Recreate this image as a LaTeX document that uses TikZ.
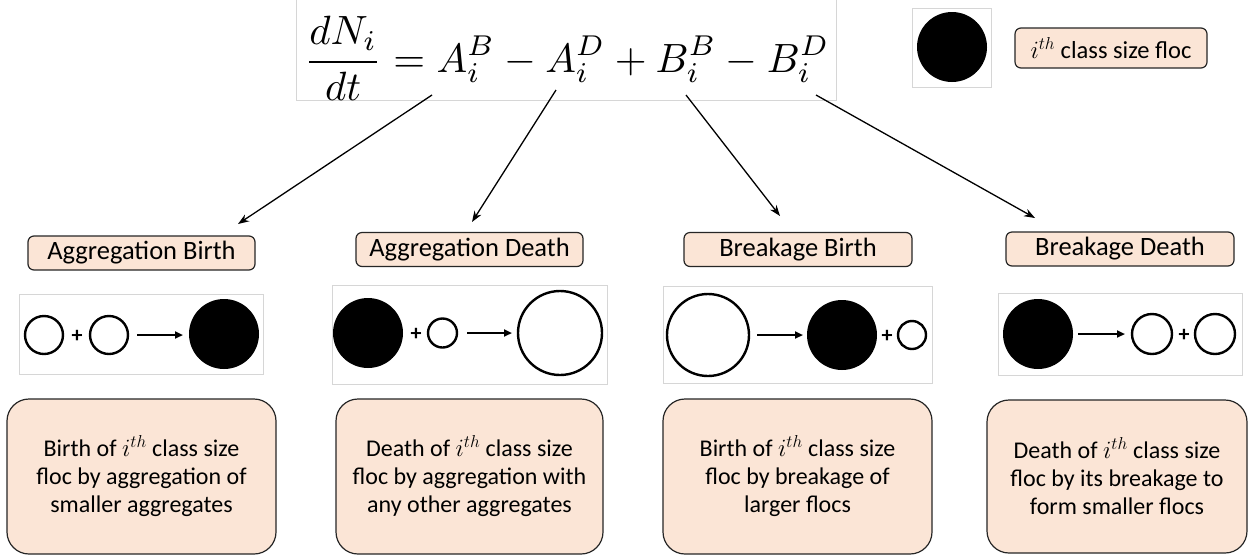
\documentclass[tikz,border=0pt]{standalone}
\usepackage{fontspec}
\setmainfont{Carlito}
\usetikzlibrary{arrows.meta}
\definecolor{peach}{HTML}{FBE5D6}
\definecolor{edge}{HTML}{262626}
\definecolor{frameg}{HTML}{D6D6D6}
\tikzset{
  titlebox/.style={draw=edge, fill=peach, line width=1.2pt, rounded corners=6pt,
    minimum height=34pt, inner sep=0pt, font=\fontsize{26.5}{30}\selectfont},
  descbox/.style={draw=edge, fill=peach, line width=1.2pt, rounded corners=22pt,
    minimum height=155pt, inner sep=0pt, align=center, font=\fontsize{24}{28}\selectfont},
  imgframe/.style={draw=frameg, line width=0.8pt},
  flocfull/.style={fill=black},
  flocopen/.style={draw=black, line width=2.4pt, fill=white},
  react/.style={line width=2pt, -{Triangle[length=8pt,width=7pt]}},
  plus/.style={font=\fontsize{22}{22}\selectfont\bfseries, inner sep=0pt},
  link/.style={line width=1.3pt, -{Stealth[length=11pt,width=8pt]}}
}
\begin{document}
\begin{tikzpicture}[x=1pt,y=-1pt]
\useasboundingbox (0,0) rectangle (1258,558);
\fill[white] (0,0) rectangle (1258,558);

% population balance equation
\draw[frameg, line width=0.8pt] (296,-2) rectangle (836,100);
\node[inner sep=0pt] (eq) at (567,58)
  {\resizebox{525pt}{!}{$\displaystyle \frac{dN_i}{dt} = A_i^B - A_i^D + B_i^B - B_i^D$}};

% legend
\draw[imgframe] (912,8) rectangle (991,87);
\fill[flocfull] (952,47) circle (35);
\node[titlebox, minimum width=192pt, minimum height=40pt, font=\fontsize{24.5}{28}\selectfont] (legend) at (1111,48)
  {$i^{th}$ class size floc};

% process titles
\node[titlebox, minimum width=227pt] (t1) at (141.5,253) {Aggregation Birth};
\node[titlebox, minimum width=227pt] (t2) at (469.5,249.5) {Aggregation Death};
\node[titlebox, minimum width=228pt] (t3) at (798,249.5) {Breakage Birth};
\node[titlebox, minimum width=228pt] (t4) at (1120,249) {Breakage Death};

% links from the equation terms
\coordinate (s1) at (432,95);  \coordinate (e1) at (238,224);
\coordinate (s2) at (556,90);  \coordinate (e2) at (472,222);
\coordinate (s3) at (686,95);  \coordinate (e3) at (780,216);
\coordinate (s4) at (816,95);  \coordinate (e4) at (1035,218);
\draw[link] (s1) -- (e1);
\draw[link] (s2) -- (e2);
\draw[link] (s3) -- (e3);
\draw[link] (s4) -- (e4);

% aggregation birth: two small flocs form an i-th floc
\draw[imgframe] (19,294) rectangle (263,374);
\draw[flocopen] (44,335) circle (19);
\node[plus] (p1) at (77,336) {+};
\draw[flocopen] (109,335) circle (19);
\draw[react] (137,335) -- (183,335);
\fill[flocfull] (224,334) circle (35);

% aggregation death: i-th floc joins another one
\draw[imgframe] (332,285) rectangle (607,384);
\fill[flocfull] (368,333) circle (35);
\node[plus] (p2) at (416,334) {+};
\draw[flocopen] (442.5,333) circle (14.5);
\draw[react] (467,333) -- (512,333);
\draw[flocopen] (560,333) circle (42);

% breakage birth: a larger floc breaks into an i-th floc
\draw[imgframe] (663,286) rectangle (932,383);
\draw[flocopen] (708,335) circle (41);
\draw[react] (757,335) -- (803,335);
\fill[flocfull] (842,335) circle (35);
\node[plus] (p3) at (887,336) {+};
\draw[flocopen] (912,335) circle (14);

% breakage death: i-th floc breaks into two smaller ones
\draw[imgframe] (998,293) rectangle (1242,375);
\fill[flocfull] (1038,334) circle (35);
\draw[react] (1078,334) -- (1125,334);
\draw[flocopen] (1152,334) circle (20);
\node[plus] (p4) at (1184,335) {+};
\draw[flocopen] (1215,334) circle (20);

% descriptions
\node[descbox, minimum width=269pt] (d1) at (141.5,476.5)
  {Birth of $i^{th}$ class size\\floc by aggregation of\\smaller aggregates};
\node[descbox, minimum width=267pt] (d2) at (469.5,476.5)
  {Death of $i^{th}$ class size\\floc by aggregation with\\any other aggregates};
\node[descbox, minimum width=269pt] (d3) at (797.5,476.5)
  {Birth of $i^{th}$ class size\\floc by breakage of\\larger flocs};
\node[descbox, minimum width=260pt, minimum height=153pt] (d4) at (1117,476.5)
  {Death of $i^{th}$ class size\\floc by its breakage to\\form smaller flocs};
\end{tikzpicture}
\end{document}
